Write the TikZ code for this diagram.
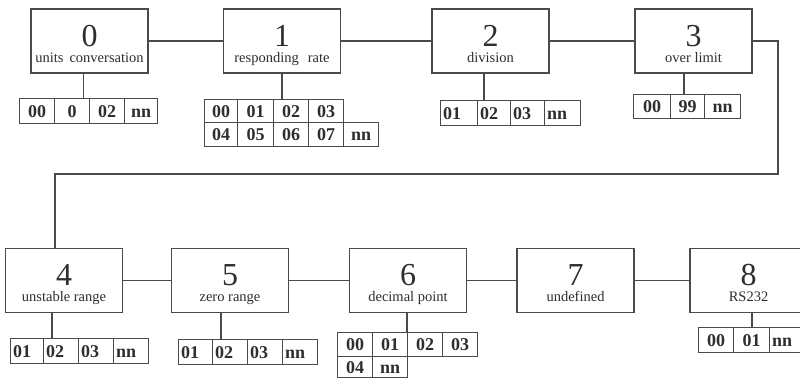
\documentclass[tikz,border=0pt]{standalone}
\usepackage{fontspec}
\setmainfont{Liberation Serif}
\definecolor{ln}{HTML}{4A4A4A}
\definecolor{tx}{HTML}{2E2E2E}
\begin{document}
\begin{tikzpicture}[x=1pt,y=-1pt,
  mbox/.style={draw=ln, line width=1.3pt, fill=white, minimum width=117pt, minimum height=64pt, inner sep=0pt},
  big/.style={anchor=base, inner sep=0pt, text=tx, font=\fontsize{32}{32}\selectfont},
  lab/.style={anchor=base, inner sep=0pt, text=tx, font=\fontsize{14.5}{15}\selectfont},
  cell/.style={draw=ln, line width=1.2pt, anchor=north west, inner sep=0pt, text height=12.5pt, text depth=0pt, text=tx, font=\fontsize{18}{18}\selectfont\bfseries},
  cellc/.style={cell},
  celll/.style={cell, align=left, text width=#1-5pt, inner xsep=2.5pt},
  wire/.style={draw=ln, line width=1.3pt}
]
\useasboundingbox (0,0) rectangle (800,378);
\clip (0,0) rectangle (800,378);

% ---------- main boxes ----------
\node[mbox] (b0) at (89.5,41) {};
\node[mbox] (b1) at (282,41) {};
\node[mbox] (b2) at (490.5,41) {};
\node[mbox] (b3) at (693.5,41) {};
\node[mbox] (b4) at (64,280.5) {};
\node[mbox] (b5) at (230,280.5) {};
\node[mbox] (b6) at (408,280.5) {};
\node[mbox] (b7) at (575.5,280.5) {};
\node[mbox] (b8) at (748.5,280.5) {};

\foreach \b/\d/\l in {b0/0/units\hspace{6pt}conversation, b1/1/responding\hspace{9pt}rate, b2/2/division, b3/3/over limit,
                      b4/4/unstable range, b5/5/zero range, b6/6/decimal point, b7/7/undefined, b8/8/RS232}{
  \node[big] (\b d) at ([yshift=-38pt]\b.north) {\d};
  \node[lab] (\b l) at ([yshift=-54pt]\b.north) {\l};
}

% ---------- connectors between boxes ----------
\draw[wire] (b0.east) -- (b1.west);
\draw[wire] (b1.east) -- (b2.west);
\draw[wire] (b2.east) -- (b3.west);
\draw[wire] (b4.east) -- (b5.west);
\draw[wire] (b5.east) -- (b6.west);
\draw[wire] (b6.east) -- (b7.west);
\draw[wire] (b7.east) -- (b8.west);
\coordinate (turn) at (778,174);
\draw[wire] (b3.east) -| (turn) -| ([xshift=-9pt]b4.north);

% ---------- table 0 ----------
\node[cellc, minimum width=35pt, minimum height=25pt] (t0a) at (19,98) {00};
\node[cellc, minimum width=35pt, minimum height=25pt] (t0b) at (54,98) {0};
\node[cellc, minimum width=35pt, minimum height=25pt] (t0c) at (89,98) {02};
\node[cellc, minimum width=33pt, minimum height=25pt] (t0d) at (124,98) {nn};
\draw[wire] ([xshift=-6pt]b0.south) -- ([xshift=-6pt]b0.south |- t0a.north);

% ---------- table 1 ----------
\node[cellc, minimum width=33pt, minimum height=23pt] (t1a) at (204,99) {00};
\node[cellc, minimum width=36pt, minimum height=23pt] (t1b) at (237,99) {01};
\node[cellc, minimum width=35pt, minimum height=23pt] (t1c) at (273,99) {02};
\node[cellc, minimum width=35pt, minimum height=23pt] (t1d) at (308,99) {03};
\node[cellc, minimum width=33pt, minimum height=24pt] (t1e) at (204,122) {04};
\node[cellc, minimum width=36pt, minimum height=24pt] (t1f) at (237,122) {05};
\node[cellc, minimum width=35pt, minimum height=24pt] (t1g) at (273,122) {06};
\node[cellc, minimum width=35pt, minimum height=24pt] (t1h) at (308,122) {07};
\node[cellc, minimum width=35pt, minimum height=24pt] (t1i) at (343,122) {nn};
\draw[wire] (b1.south) -- (b1.south |- t1a.north);

% ---------- table 2 ----------
\node[celll=37pt, minimum height=25pt] (t2a) at (440,100) {01};
\node[celll=33pt, minimum height=25pt] (t2b) at (477,100) {02};
\node[celll=34pt, minimum height=25pt] (t2c) at (510,100) {03};
\node[celll=36pt, minimum height=25pt] (t2d) at (544,100) {nn};
\draw[wire] ([xshift=-6.5pt]b2.south) -- ([xshift=-6.5pt]b2.south |- t2a.north);

% ---------- table 3 ----------
\node[cellc, minimum width=37pt, minimum height=24pt] (t3a) at (633,94) {00};
\node[cellc, minimum width=34pt, minimum height=24pt] (t3b) at (670,94) {99};
\node[cellc, minimum width=36pt, minimum height=24pt] (t3c) at (704,94) {nn};
\draw[wire] ([xshift=-9.5pt]b3.south) -- ([xshift=-9.5pt]b3.south |- t3a.north);

% ---------- table 4 ----------
\node[celll=33pt, minimum height=25pt] (t4a) at (10,338) {01};
\node[celll=35pt, minimum height=25pt] (t4b) at (43,338) {02};
\node[celll=35pt, minimum height=25pt] (t4c) at (78,338) {03};
\node[celll=35pt, minimum height=25pt] (t4d) at (113,338) {nn};
\draw[wire] ([xshift=-12pt]b4.south) -- ([xshift=-12pt]b4.south |- t4a.north);

% ---------- table 5 ----------
\node[celll=34pt, minimum height=25pt] (t5a) at (178,339) {01};
\node[celll=35pt, minimum height=25pt] (t5b) at (212,339) {02};
\node[celll=35pt, minimum height=25pt] (t5c) at (247,339) {03};
\node[celll=35pt, minimum height=25pt] (t5d) at (282,339) {nn};
\draw[wire] ([xshift=-9pt]b5.south) -- ([xshift=-9pt]b5.south |- t5a.north);

% ---------- table 6 ----------
\node[cellc, minimum width=35pt, minimum height=24pt] (t6a) at (337,332) {00};
\node[cellc, minimum width=35pt, minimum height=24pt] (t6b) at (372,332) {01};
\node[cellc, minimum width=35pt, minimum height=24pt] (t6c) at (407,332) {02};
\node[cellc, minimum width=35pt, minimum height=24pt] (t6d) at (442,332) {03};
\node[cellc, minimum width=35pt, minimum height=21pt] (t6e) at (337,356) {04};
\node[cellc, minimum width=35pt, minimum height=21pt] (t6f) at (372,356) {nn};
\draw[wire] (t6c.north west |- b6.south) -- (t6c.north west);

% ---------- table 8 ----------
\node[cellc, minimum width=35pt, minimum height=25pt] (t8a) at (698,327) {00};
\node[cellc, minimum width=36pt, minimum height=25pt] (t8b) at (733,327) {01};
\node[celll=36pt, minimum height=25pt] (t8c) at (769,327) {nn};
\draw[wire] ([xshift=3.5pt]b8.south) -- ([xshift=3.5pt]b8.south |- t8a.north);
\end{tikzpicture}
\end{document}
